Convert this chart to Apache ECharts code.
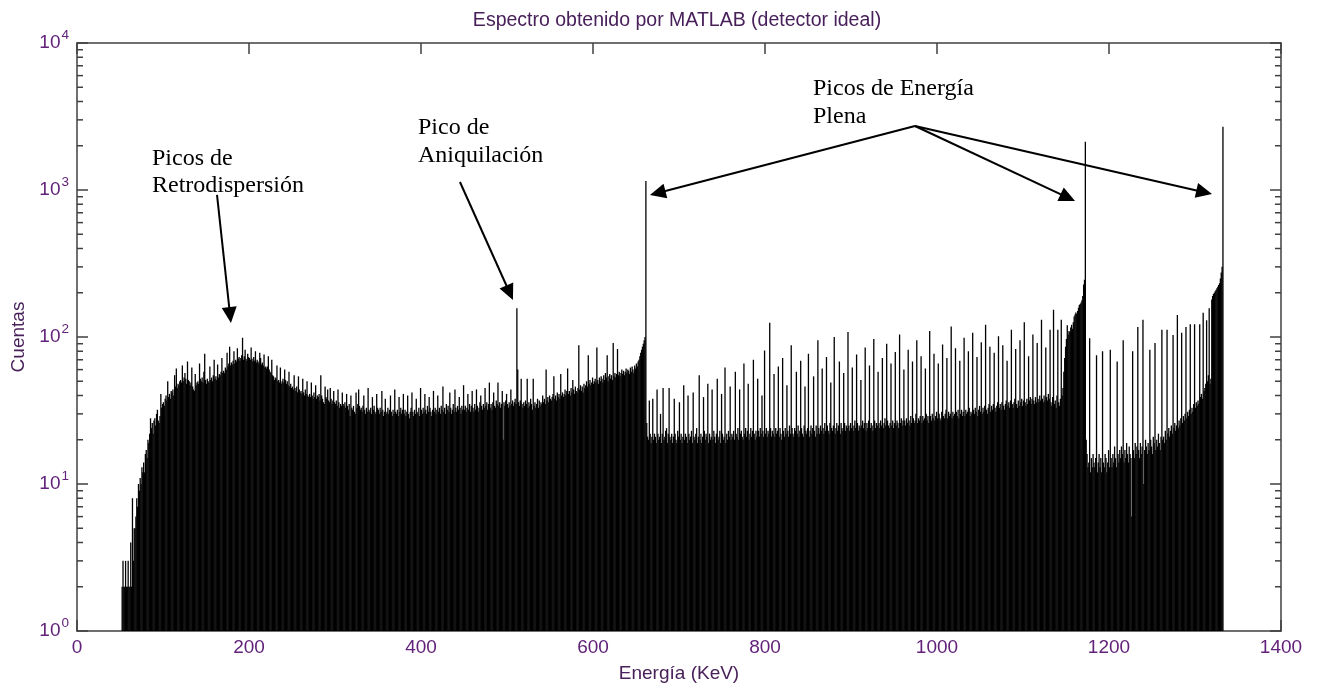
<!DOCTYPE html>
<html>
<head>
<meta charset="utf-8">
<script src="https://cdn.jsdelivr.net/npm/echarts@6.0.0/dist/echarts.min.js"></script>
<style>
html,body{margin:0;padding:0;background:#fff;}
#chart{width:1319px;height:691px;}
</style>
</head>
<body>
<div id="chart"></div>
<script>
// ---- Data: counts per 1 keV bin (segment start energy in keV) ----
const segStarts = [52, 100, 200, 300, 400, 511, 662, 762, 862, 962, 1062, 1172, 1173, 1263, 1332];
const s052 = [2,3,2,2,3,2,2,3,2,2,4,2, 8,3,5,5,6,8,7,10,9,11,10,13, 12,14,12,16,17,15,20,19,22,28,24,26, 22,27,28,25,30,32,27,26,29,41,33,35];
const s100 = [36,34,38,40,37,50,39,41,38,43, 42,44,40,55,46,61,45,48,47,50, 51,49,64,50,53,57,52,48,68,51, 50,47,49,62,46,44,43,56,47,49, 50,48,66,52,50,53,49,58,77,51,
  48,52,50,49,63,51,53,50,55,70, 52,54,51,65,53,56,55,58,72,57, 59,57,62,60,78,63,66,86,64,67, 65,69,80,66,70,68,84,71,73,69, 72,75,99,70,74,82,71,69,77,73];
const s200 = [72,70,85,71,68,73,69,80,67,70, 68,66,78,72,65,67,64,76,62,63, 61,63,74,60,58,57,70,55,54,51, 53,52,64,50,51,49,62,48,50,52, 49,60,51,48,50,47,58,46,48,45,
  46,44,55,45,43,46,42,54,44,42, 43,41,52,42,40,44,41,50,40,39, 41,39,49,40,38,42,39,47,38,40, 39,41,37,55,40,38,36,35,46,39, 38,44,37,36,45,38,35,37,43,36];
const s300 = [35,37,34,44,36,33,35,34,42,35, 34,36,33,41,34,32,35,29,40,33, 32,34,31,30,42,33,35,44,34,32, 33,31,34,40,32,30,33,31,45,32, 31,33,30,39,32,34,31,30,41,33,
  32,30,33,31,43,32,29,31,38,30, 31,33,30,32,40,31,29,32,30,44, 31,30,32,29,39,31,33,30,32,41, 30,32,29,31,40,30,28,31,33,42, 31,29,32,30,38,31,30,33,29,45];
const s400 = [32,30,33,31,41,32,30,34,31,39, 33,31,29,32,43,31,33,30,32,40, 31,33,30,34,32,46,31,33,30,35, 32,34,31,42,33,30,32,35,31,44, 33,31,34,32,39,33,30,34,32,47,
  32,34,31,33,41,32,35,31,34,43, 33,31,35,32,44,34,31,33,36,40, 34,32,35,33,45,34,36,32,35,49, 33,35,32,36,42,34,33,37,35,49, 34,36,33,35,43,20,36,34,37,41,
  35,33,36,34,44,35,37,34,36,38,35];
const s511 = [157,60,36,34,37,52,35,33,36,34, 37,35,52,33,36,34,38,35,32,52, 34,36,33,35,38,33,37,34,36,35, 40,36,38,35,60,37,39,36,40,38, 37,39,41,54,38,40,37,42,39,41,
  38,56,40,42,39,41,44,40,43,61, 41,43,40,45,42,51,44,41,46,43, 42,45,88,44,47,43,46,42,48,45, 47,50,46,75,48,51,47,49,53,48, 50,52,49,85,51,48,53,50,54,52,
  49,55,51,57,53,75,50,54,56,52, 55,51,91,54,57,53,56,83,55,58, 54,57,60,56,59,55,58,61,57,60, 59,56,62,58,63,60,57,64,61,66, 63,68,70,74,78,82,86,90,95,100, 1150];
const s662 = [26,21,20,37,22,19,21,38,20,22, 21,19,44,22,20,21,30,19,22,45, 20,21,23,24,19,22,45,21,20,22, 19,21,38,22,20,19,23,21,36,20, 22,19,21,47,20,22,21,19,40,22,
  20,21,23,19,42,21,20,22,24,19, 21,55,20,22,19,21,39,23,20,22, 21,48,19,22,20,21,44,20,23,21, 19,22,52,20,21,23,19,41,22,20, 21,62,19,22,20,23,21,46,20,22];
const s762 = [21,23,20,58,22,21,24,20,44,22, 23,21,20,66,22,24,21,23,48,20, 22,24,21,23,70,22,20,23,21,52, 23,21,24,22,40,23,21,81,22,24, 21,23,22,125,24,21,23,22,56,21,
  24,22,23,63,21,24,22,20,72,23, 21,24,22,47,23,21,25,22,88,24, 22,21,24,23,58,22,25,21,23,69, 24,22,21,25,46,23,22,24,77,21, 23,25,22,24,54,23,21,25,22,95];
const s862 = [24,22,25,23,61,24,22,26,23,73, 25,23,22,26,49,24,23,25,100,22, 24,26,23,25,68,22,26,24,23,57, 26,23,25,24,108,25,23,26,24,62, 23,25,27,24,76,26,23,25,24,51,
  25,27,24,26,85,23,26,24,27,64, 24,26,25,23,97,27,24,26,25,58, 26,24,27,25,72,24,26,28,25,90, 27,25,24,26,66,25,27,24,26,79, 25,27,26,24,104,26,28,25,27,60];
const s962 = [27,25,28,26,82,27,25,29,26,68, 28,26,27,30,95,26,28,27,29,74, 26,29,27,28,61,30,27,29,26,110, 29,27,30,28,77,27,29,31,28,66, 30,28,27,31,89,29,28,30,32,72,
  28,31,29,30,118,28,31,29,30,84, 31,29,32,28,69,30,32,29,31,99, 29,32,30,31,80,33,29,31,30,107, 32,30,33,31,73,29,32,34,31,92, 30,33,31,34,121,32,30,33,35,86];
const s1062 = [31,34,32,35,78,33,31,34,36,101, 33,35,32,36,88,34,32,35,37,69, 34,36,33,37,112,35,33,36,38,83, 35,33,37,34,95,36,38,34,37,126, 36,34,38,35,74,37,39,35,38,104,
  37,35,39,36,91,38,36,40,37,131, 38,36,40,37,85,39,37,41,38,112, 36,34,39,153,35,37,33,40,112,36, 34,38,131,40,45,58,72,86,97,120, 104,110,108,116,121,114,126,138,142,147,
  144,150,158,165,168,172,178,190,228,245];
const s1172 = [2130];
const s1173 = [20,16,13,14,98,12,15,13,16,14, 13,15,75,12,14,16,13,15,12,80, 14,13,16,15,12,14,17,13,82,15, 13,16,14,18,15,13,68,16,14,17, 15,18,16,95,14,17,15,19,16,14,
  18,16,15,6,80,17,15,19,16,18, 117,17,15,19,16,18,131,10,17,20, 18,16,19,17,82,20,18,16,21,19, 91,17,20,18,22,19,17,21,112,20];
const s1263 = [21,19,23,20,112,22,24,21,23,25, 22,103,24,26,23,25,141,24,27,25, 28,107,26,29,27,30,117,28,31,29, 32,122,30,33,31,35,122,33,36,34, 37,35,122,39,41,38,146,43,45,48,
  130,50,55,157,48,52,180,190,196,200, 205,210,215,220,226,232,250,275,300];
const s1332 = [2690];
const segments = [s052, s100, s200, s300, s400, s511, s662, s762, s862, s962, s1062, s1172, s1173, s1263, s1332];

// axis ticks
const xTicks = [0, 200, 400, 600, 800, 1000, 1200, 1400];
const yMinorTicks = [2,3,4,5,6,7,8,9, 20,30,40,50,60,70,80,90, 200,300,400,500,600,700,800,900, 2000,3000,4000,5000,6000,7000,8000,9000];

// annotation arrows: [tailEnergy, tailCounts, headEnergy, headCounts]
const arrows = [
  [162.8, 925, 178.0, 141],
  [445.3, 1133, 503.1, 200],
  [974.4, 2724, 675.2, 954],
  [974.4, 2724, 1152.1, 888],
  [974.4, 2724, 1310.7, 966]
];

// ---- build histogram points (bin centre, counts) ----
const hist = [];
segments.forEach(function (seg, k) {
  seg.forEach(function (v, i) { hist.push([segStarts[k] + i + 0.5, v]); });
});

const tickColor = '#62227a';
const nameColor = '#48205a';
const axisColor = '#404040';
const sans = '"Liberation Sans", Arial, sans-serif';
const serif = '"Liberation Serif", "Times New Roman", serif';

const chart = echarts.init(document.getElementById('chart'), null, {renderer: 'canvas'});
const option = {
  animation: false,
  backgroundColor: '#ffffff',
  grid: {left: 77, top: 43, width: 1204, height: 588, containLabel: false},
  xAxis: [{
    type: 'value', min: 0, max: 1400, interval: 200, position: 'bottom',
    axisLine: {show: true, onZero: false, lineStyle: {color: axisColor, width: 1.5}},
    axisTick: {show: true, inside: true, length: 11, lineStyle: {color: axisColor, width: 1.5}},
    axisLabel: {color: tickColor, fontSize: 19, fontFamily: sans, margin: 7,
      formatter: function (v) { return xTicks.indexOf(v) >= 0 ? String(v) : ''; }},
    splitLine: {show: false},
    name: 'Energía (KeV)', nameLocation: 'middle', nameGap: 33,
    nameTextStyle: {color: nameColor, fontSize: 19, fontFamily: sans}
  }, {
    type: 'value', min: 0, max: 1400, interval: 200, position: 'top',
    axisLine: {show: true, onZero: false, lineStyle: {color: axisColor, width: 1.5}},
    axisTick: {show: true, inside: true, length: 11, lineStyle: {color: axisColor, width: 1.5}},
    axisLabel: {show: false}, splitLine: {show: false}
  }],
  yAxis: [{
    type: 'log', logBase: 10, min: 1, max: 10000, position: 'left',
    axisLine: {show: true, onZero: false, lineStyle: {color: axisColor, width: 1.5}},
    axisTick: {show: true, inside: true, length: 11, lineStyle: {color: axisColor, width: 1.5}},
    axisLabel: {
      margin: 8,
      formatter: function (v) { return '{b|10}{s|' + Math.round(Math.log10(v)) + '}'; },
      rich: {
        b: {color: tickColor, fontSize: 19, fontFamily: sans},
        s: {color: tickColor, fontSize: 13.5, fontFamily: sans, padding: [0, 0, 16, 1]}
      }
    },
    splitLine: {show: false},
    name: 'Cuentas', nameLocation: 'middle', nameGap: 49,
    nameTextStyle: {color: nameColor, fontSize: 19, fontFamily: sans}
  }, {
    type: 'log', logBase: 10, min: 1, max: 10000, position: 'right',
    axisLine: {show: true, onZero: false, lineStyle: {color: axisColor, width: 1.5}},
    axisTick: {show: true, inside: true, length: 11, lineStyle: {color: axisColor, width: 1.5}},
    axisLabel: {show: false}, splitLine: {show: false}
  }],
  series: [{
    type: 'bar', xAxisIndex: 0, yAxisIndex: 0, data: hist,
    barWidth: 1.3, barMinWidth: 1.3, silent: true,
    itemStyle: {color: '#000000'},
    markLine: {
      silent: true, animation: false,
      symbol: ['none', 'triangle'], symbolSize: [15, 16],
      lineStyle: {color: '#000000', width: 2, type: 'solid'},
      label: {show: false},
      emphasis: {disabled: true},
      data: arrows.map(function (a) { return [{coord: [a[0], a[1]]}, {coord: [a[2], a[3]]}]; })
    }
  }, {
    type: 'custom', xAxisIndex: 0, yAxisIndex: 0, silent: true, clip: false, z: 5,
    data: yMinorTicks.map(function (v) { return [0, v]; }),
    renderItem: function (params, api) {
      const v = api.value(1);
      const l = api.coord([0, v]);
      const r = api.coord([1400, v]);
      return {type: 'group', children: [
        {type: 'line', shape: {x1: l[0], y1: l[1], x2: l[0] + 6, y2: l[1]}, style: {stroke: axisColor, lineWidth: 1.5}},
        {type: 'line', shape: {x1: r[0] - 6, y1: r[1], x2: r[0], y2: r[1]}, style: {stroke: axisColor, lineWidth: 1.5}}
      ]};
    }
  }],
  graphic: [
    {type: 'text', x: 677, y: 21, silent: true,
      style: {text: 'Espectro obtenido por MATLAB (detector ideal)', font: '19.5px ' + sans, fill: nameColor, align: 'center', verticalAlign: 'middle'}},
    {type: 'text', x: 152, y: 145, silent: true,
      style: {text: 'Picos de\nRetrodispersión', font: '24px ' + serif, fill: '#000', lineHeight: 27, align: 'left', verticalAlign: 'top'}},
    {type: 'text', x: 418, y: 114, silent: true,
      style: {text: 'Pico de\nAniquilación', font: '24px ' + serif, fill: '#000', lineHeight: 28, align: 'left', verticalAlign: 'top'}},
    {type: 'text', x: 813, y: 75, silent: true,
      style: {text: 'Picos de Energía\nPlena', font: '24px ' + serif, fill: '#000', lineHeight: 27.6, align: 'left', verticalAlign: 'top'}}
  ]
};
chart.setOption(option);
</script>
</body>
</html>
